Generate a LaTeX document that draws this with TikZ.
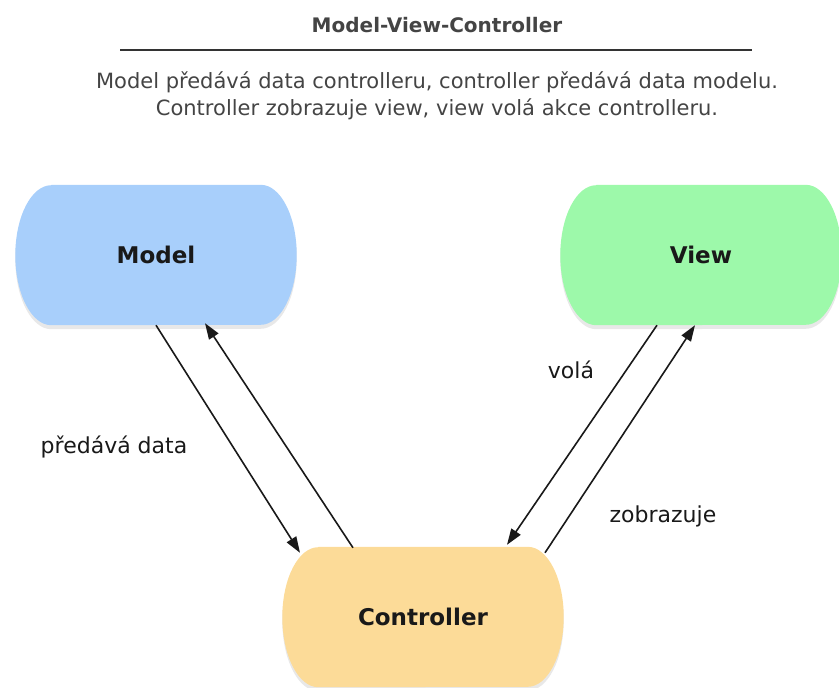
\documentclass[tikz,border=0pt]{standalone}
\usepackage{fontspec}
\setmainfont{DejaVu Sans}
\usetikzlibrary{shadows,arrows.meta}
\definecolor{modelblue}{HTML}{A8CFFB}
\definecolor{viewgreen}{HTML}{9DF9AA}
\definecolor{ctrlorange}{HTML}{FCDB98}
\definecolor{textgray}{HTML}{444444}
\pgfdeclarelayer{background}
\pgfsetlayers{background,main}
\tikzset{
  part/.style={rectangle, minimum width=281pt, minimum height=140pt, inner sep=0pt,
    font=\fontsize{23}{27}\selectfont\bfseries, text=black!90},
  flow/.style={-{Triangle[length=16pt,width=11pt]}, line width=1.6pt, black!90},
  lbl/.style={anchor=base, font=\fontsize{22}{26}\selectfont, text=black!90},
  desc/.style={anchor=base, font=\fontsize{21}{25}\selectfont, text=textgray}
}
% pill shaped fill behind a part: flat top and bottom, half ellipses at the sides
\newcommand{\pill}[2]{
    \begin{pgfonlayer}{background}
        \fill[#2, drop shadow={shadow xshift=0pt, shadow yshift=-4pt, opacity=0.18}]
            ([xshift=36pt]#1.north west) -- ([xshift=-36pt]#1.north east)
            arc[start angle=90, end angle=-90, x radius=36pt, y radius=70pt]
            -- ([xshift=36pt]#1.south west)
            arc[start angle=270, end angle=90, x radius=36pt, y radius=70pt] -- cycle;
    \end{pgfonlayer}
}

\begin{document}
\begin{tikzpicture}[x=1pt, y=-1pt]
    \useasboundingbox (0,0) rectangle (839,688);

    % heading
    \node[anchor=base, font=\fontsize{20}{24}\selectfont\bfseries, text=textgray] (title) at (437,32) {Model-View-Controller};
    \draw[line width=1.5pt, black!80] (120,50) -- (752,50);
    \node[desc] (desc_1) at (437,88)  {Model předává data controlleru, controller předává data modelu.};
    \node[desc] (desc_2) at (437,115) {Controller zobrazuje view, view volá akce controlleru.};

    % the three parts
    \node[part] (model) at (156,255) {Model};
    \node[part] (view)  at (701,255) {View};
    \node[part] (ctrl)  at (423,617) {Controller};
    \pill{model}{modelblue}
    \pill{view}{viewgreen}
    \pill{ctrl}{ctrlorange}

    \draw[flow] (model.south) -- ([shift={(-123,6)}]ctrl.north);
    \draw[flow] ([shift={(-70,1)}]ctrl.north) -- ([shift={(49,-2)}]model.south);
    \draw[flow] ([shift={(-44,0)}]view.south) -- ([shift={(84,-2)}]ctrl.north);
    \draw[flow] ([shift={(122,6)}]ctrl.north) -- ([shift={(-6,0)}]view.south);

    \node[lbl] (l_data) at (114,453) {předává data};
    \node[lbl] (l_vola) at (571,378) {volá};
    \node[lbl] (l_zobr) at (663,522) {zobrazuje};
\end{tikzpicture}
\end{document}
